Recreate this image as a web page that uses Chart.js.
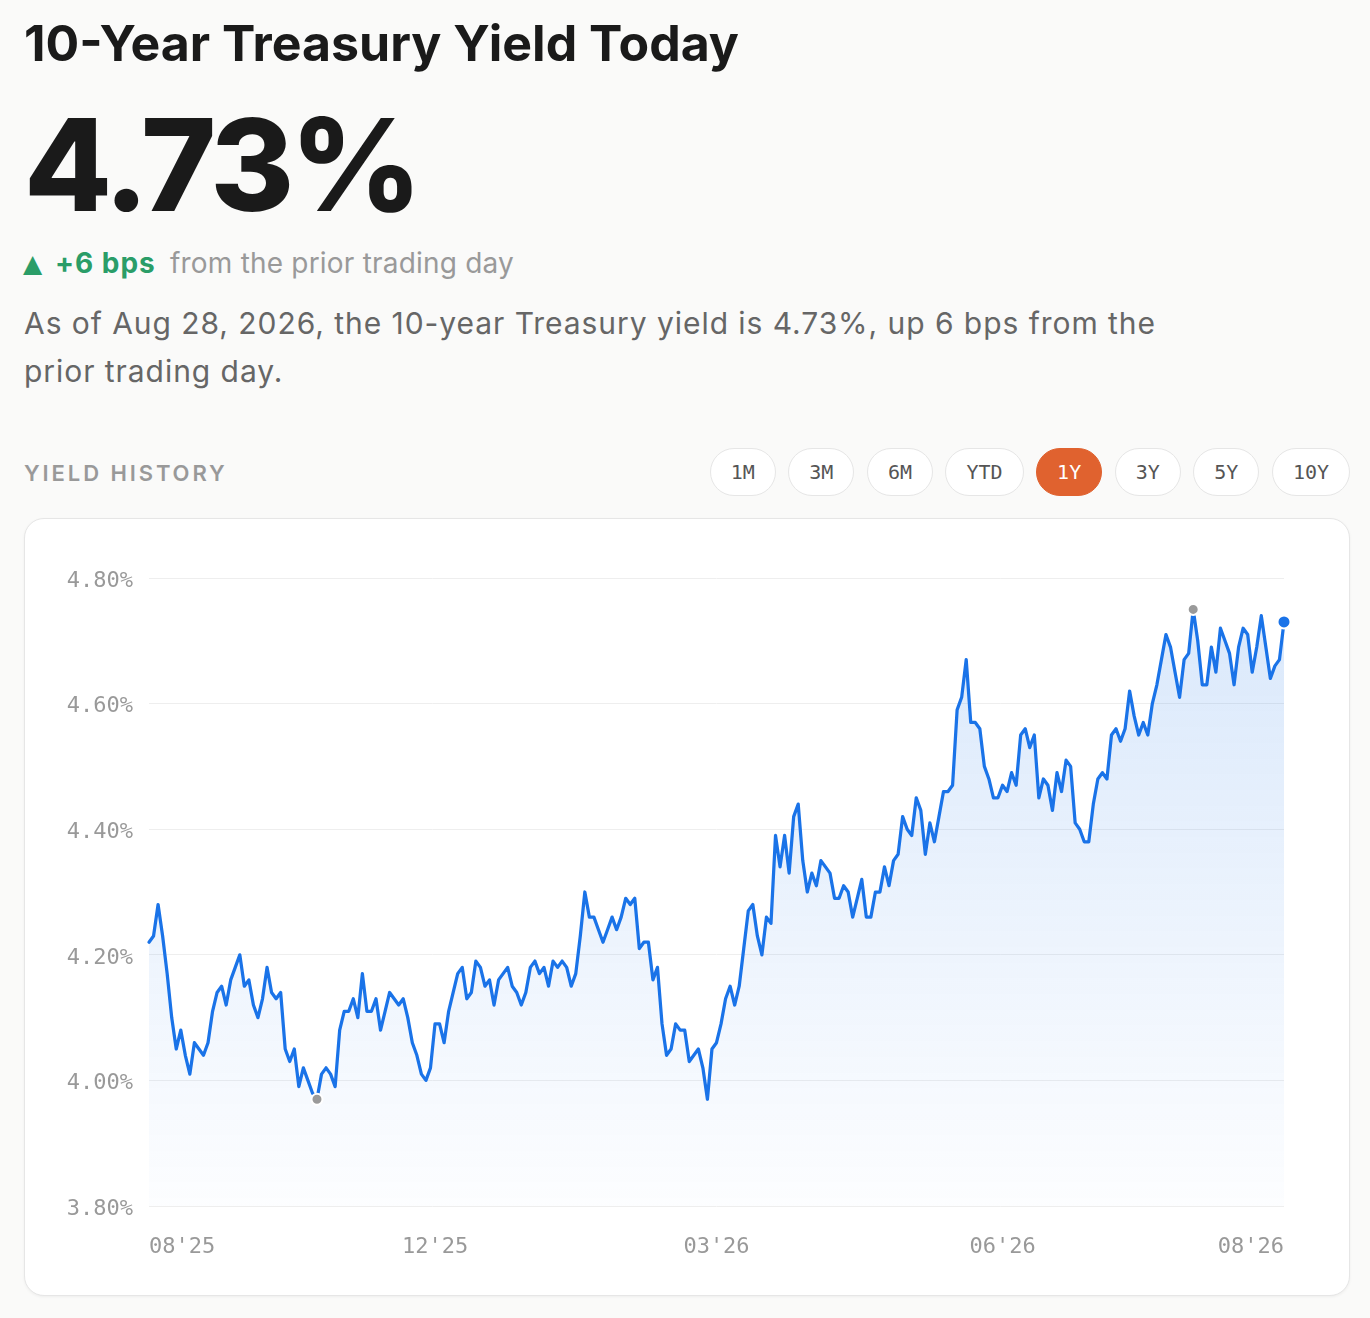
<!DOCTYPE html>
<html><head><meta charset="utf-8">
<script src="https://cdn.jsdelivr.net/npm/chart.js@4.4.1/dist/chart.umd.min.js"></script>
<style>
html,body{margin:0;padding:0;background:#fafaf9;}
body{width:1370px;height:1318px;position:relative;overflow:hidden;font-family:Inter,"Noto Sans",sans-serif;}
.abs{position:absolute;left:24px;line-height:1;white-space:nowrap;}
#title{top:18px;font-size:50px;font-weight:700;color:#1a1a1a;letter-spacing:0px;}
#big{top:101px;font-size:128px;font-weight:800;color:#1a1a1a;letter-spacing:-4px;}
.chg{top:248.5px;font-size:28px;}
#tri{left:23px;font-size:25px;top:251px;color:#2a9d68;font-family:"DejaVu Sans",sans-serif;}
#up{left:55px;color:#2a9d68;font-weight:700;letter-spacing:1px;}
#rest{left:170px;color:#999;letter-spacing:0.2px;}
#para{top:299px;font-size:30px;line-height:48px;color:#666;white-space:normal;width:1190px;letter-spacing:0.95px;}
#hist{top:462px;font-size:22px;font-weight:600;color:#999;letter-spacing:2.9px;}
#btns{position:absolute;top:448px;right:20px;display:flex;gap:12.5px;}
.btn{height:48px;box-sizing:border-box;border:1px solid #e6e6e6;border-radius:24px;background:#fff;padding:0 20px;font-family:"DejaVu Sans Mono",monospace;font-size:20px;color:#555;display:flex;align-items:center;}
.btn.on{background:#e0622f;border-color:#e0622f;color:#fff;}
#card{position:absolute;left:24px;top:518px;width:1326px;height:778px;box-sizing:border-box;border:1px solid #e6e6e6;border-radius:20px;background:#fff;box-shadow:0 1px 3px rgba(0,0,0,.05);}
#wrap{position:absolute;left:0;top:0;width:1324px;height:776px;}
</style></head>
<body>
<div id="title" class="abs">10-Year Treasury Yield Today</div>
<div id="big" class="abs">4.73%</div>
<div id="tri" class="abs">▲</div>
<div id="up" class="abs chg">+6 bps</div>
<div id="rest" class="abs chg">from the prior trading day</div>
<div id="para" class="abs">As of Aug 28, 2026, the 10-year Treasury yield is 4.73%, up 6 bps from the prior trading day.</div>
<div id="hist" class="abs">YIELD HISTORY</div>
<div id="btns">
<div class="btn">1M</div><div class="btn">3M</div><div class="btn">6M</div><div class="btn">YTD</div><div class="btn on">1Y</div><div class="btn">3Y</div><div class="btn">5Y</div><div class="btn">10Y</div>
</div>
<div id="card"><div id="wrap"><canvas id="c"></canvas></div></div>
<script>
// Daily 10-year yields (%), one value per trading day
const yieldsAugNov = [4.22,4.23,4.28,4.23,4.17,4.10,4.05,4.08,4.04,4.01,4.06,4.05,4.04,4.06,4.11,4.14,4.15,4.12,4.16,4.18,
4.20,4.15,4.16,4.12,4.10,4.13,4.18,4.14,4.13,4.14,4.05,4.03,4.05,3.99,4.02,4.00,3.98,3.97,4.01,4.02,
4.01,3.99,4.08,4.11,4.11,4.13,4.10,4.17,4.11,4.11,4.13,4.08,4.11,4.14,4.13,4.12,4.13,4.10,4.06,4.04,
4.01,4.00,4.02];
const yieldsDecFeb = [4.09,4.09,4.06,4.11,4.14,4.17,4.18,4.13,4.14,4.19,4.18,4.15,4.16,4.12,4.16,4.17,4.18,
4.15,4.14,4.12,4.14,4.18,4.19,4.17,4.18,4.15,4.19,4.18,4.19,4.18,4.15,4.17,4.23,4.30,4.26,4.26,4.24,
4.22,4.24,4.26,4.24,4.26,4.29,4.28,4.29,4.21,4.22,4.22,4.16,4.18,4.09,4.04,4.05,4.09,4.08,4.08,4.03,
4.04,4.05,4.02,3.97,4.05];
const yieldsMarMay = [4.06,4.09,4.13,4.15,4.12,4.15,4.21,4.27,4.28,4.23,4.20,4.26,4.25,4.39,4.34,4.39,4.33,
4.42,4.44,4.35,4.30,4.33,4.31,4.35,4.34,4.33,4.29,4.29,4.31,4.30,4.26,4.29,4.32,4.26,4.26,4.30,4.30,
4.34,4.31,4.35,4.36,4.42,4.40,4.39,4.45,4.43,4.36,4.41,4.38,4.42,4.46,4.46,4.47,4.59,4.61,4.67,4.57,
4.57,4.56,4.50,4.48,4.45,4.45];
const yieldsJunAug = [4.47,4.46,4.49,4.47,4.55,4.56,4.53,4.55,4.45,4.48,4.47,4.43,4.49,4.46,4.51,4.50,4.41,
4.40,4.38,4.38,4.44,4.48,4.49,4.48,4.55,4.56,4.54,4.56,4.62,4.58,4.55,4.57,4.55,4.60,4.63,4.67,4.71,
4.69,4.65,4.61,4.67,4.68,4.75,4.70,4.63,4.63,4.69,4.65,4.72,4.70,4.68,4.63,4.69,4.72,4.71,4.65,4.69,
4.74,4.69,4.64,4.66,4.67,4.73];
const yields = [...yieldsAugNov, ...yieldsDecFeb, ...yieldsMarMay, ...yieldsJunAug];
const days = yields.map((_, i) => i);            // trading-day index (categories)
const tickIndex = [0, 63, 125, 188, 250];        // first trading day shown per label
const tickLabels = ["08'25", "12'25", "03'26", "06'26", "08'26"];
const yTicks = [3.8, 4.0, 4.2, 4.4, 4.6, 4.8];

const minIdx = yields.indexOf(Math.min(...yields));
const maxIdx = yields.indexOf(Math.max(...yields));
const lastIdx = yields.length - 1;
const BLUE = '#1a73e8', GRAY = '#9a9a9a';

new Chart(document.getElementById('c'), {
  type: 'line',
  data: {
    labels: days,
    datasets: [{
      data: yields,
      borderColor: BLUE,
      borderWidth: 3.25,
      borderJoinStyle: 'round',
      borderCapStyle: 'round',
      tension: 0,
      fill: 'start',
      backgroundColor: (ctx) => {
        const ch = ctx.chart, a = ch.chartArea;
        if (!a) return 'rgba(26,115,232,0.08)';
        const g = ch.ctx.createLinearGradient(0, a.top, 0, a.bottom);
        g.addColorStop(0, 'rgba(26,115,232,0.17)');
        g.addColorStop(1, 'rgba(26,115,232,0.01)');
        return g;
      },
      pointRadius: (ctx) => ctx.dataIndex === lastIdx ? 6.5 : (ctx.dataIndex === minIdx || ctx.dataIndex === maxIdx ? 5.5 : 0),
      pointBackgroundColor: (ctx) => ctx.dataIndex === lastIdx ? BLUE : GRAY,
      pointBorderColor: '#ffffff',
      pointBorderWidth: 2,
      pointHoverRadius: 0
    }]
  },
  options: {
    responsive: true,
    maintainAspectRatio: false,
    animation: false,
    layout: { padding: { left: 0, right: 65, top: 59, bottom: 29 } },
    plugins: { legend: { display: false }, tooltip: { enabled: false } },
    scales: {
      x: {
        type: 'category',
        grid: { display: false, drawTicks: false },
        border: { display: false },
        afterFit: (s) => { s.height = 60; },
        afterBuildTicks: (s) => { s.ticks = tickIndex.map(v => ({ value: v })); },
        ticks: {
          autoSkip: false, maxRotation: 0, minRotation: 0, align: 'inner', padding: 28,
          color: '#999', font: { family: 'DejaVu Sans Mono', size: 22 },
          callback: (v) => tickLabels[tickIndex.indexOf(v)]
        }
      },
      y: {
        min: 3.8, max: 4.8,
        grid: { color: '#eeeeee', lineWidth: 1, drawTicks: false },
        border: { display: false },
        afterFit: (s) => { s.width = 124; },
        afterBuildTicks: (s) => { s.ticks = yTicks.map(v => ({ value: v })); },
        ticks: {
          padding: 16, labelOffset: 3, color: '#999', font: { family: 'DejaVu Sans Mono', size: 22 },
          callback: (v) => Number(v).toFixed(2) + '%'
        }
      }
    }
  }
});
</script>
</body></html>
